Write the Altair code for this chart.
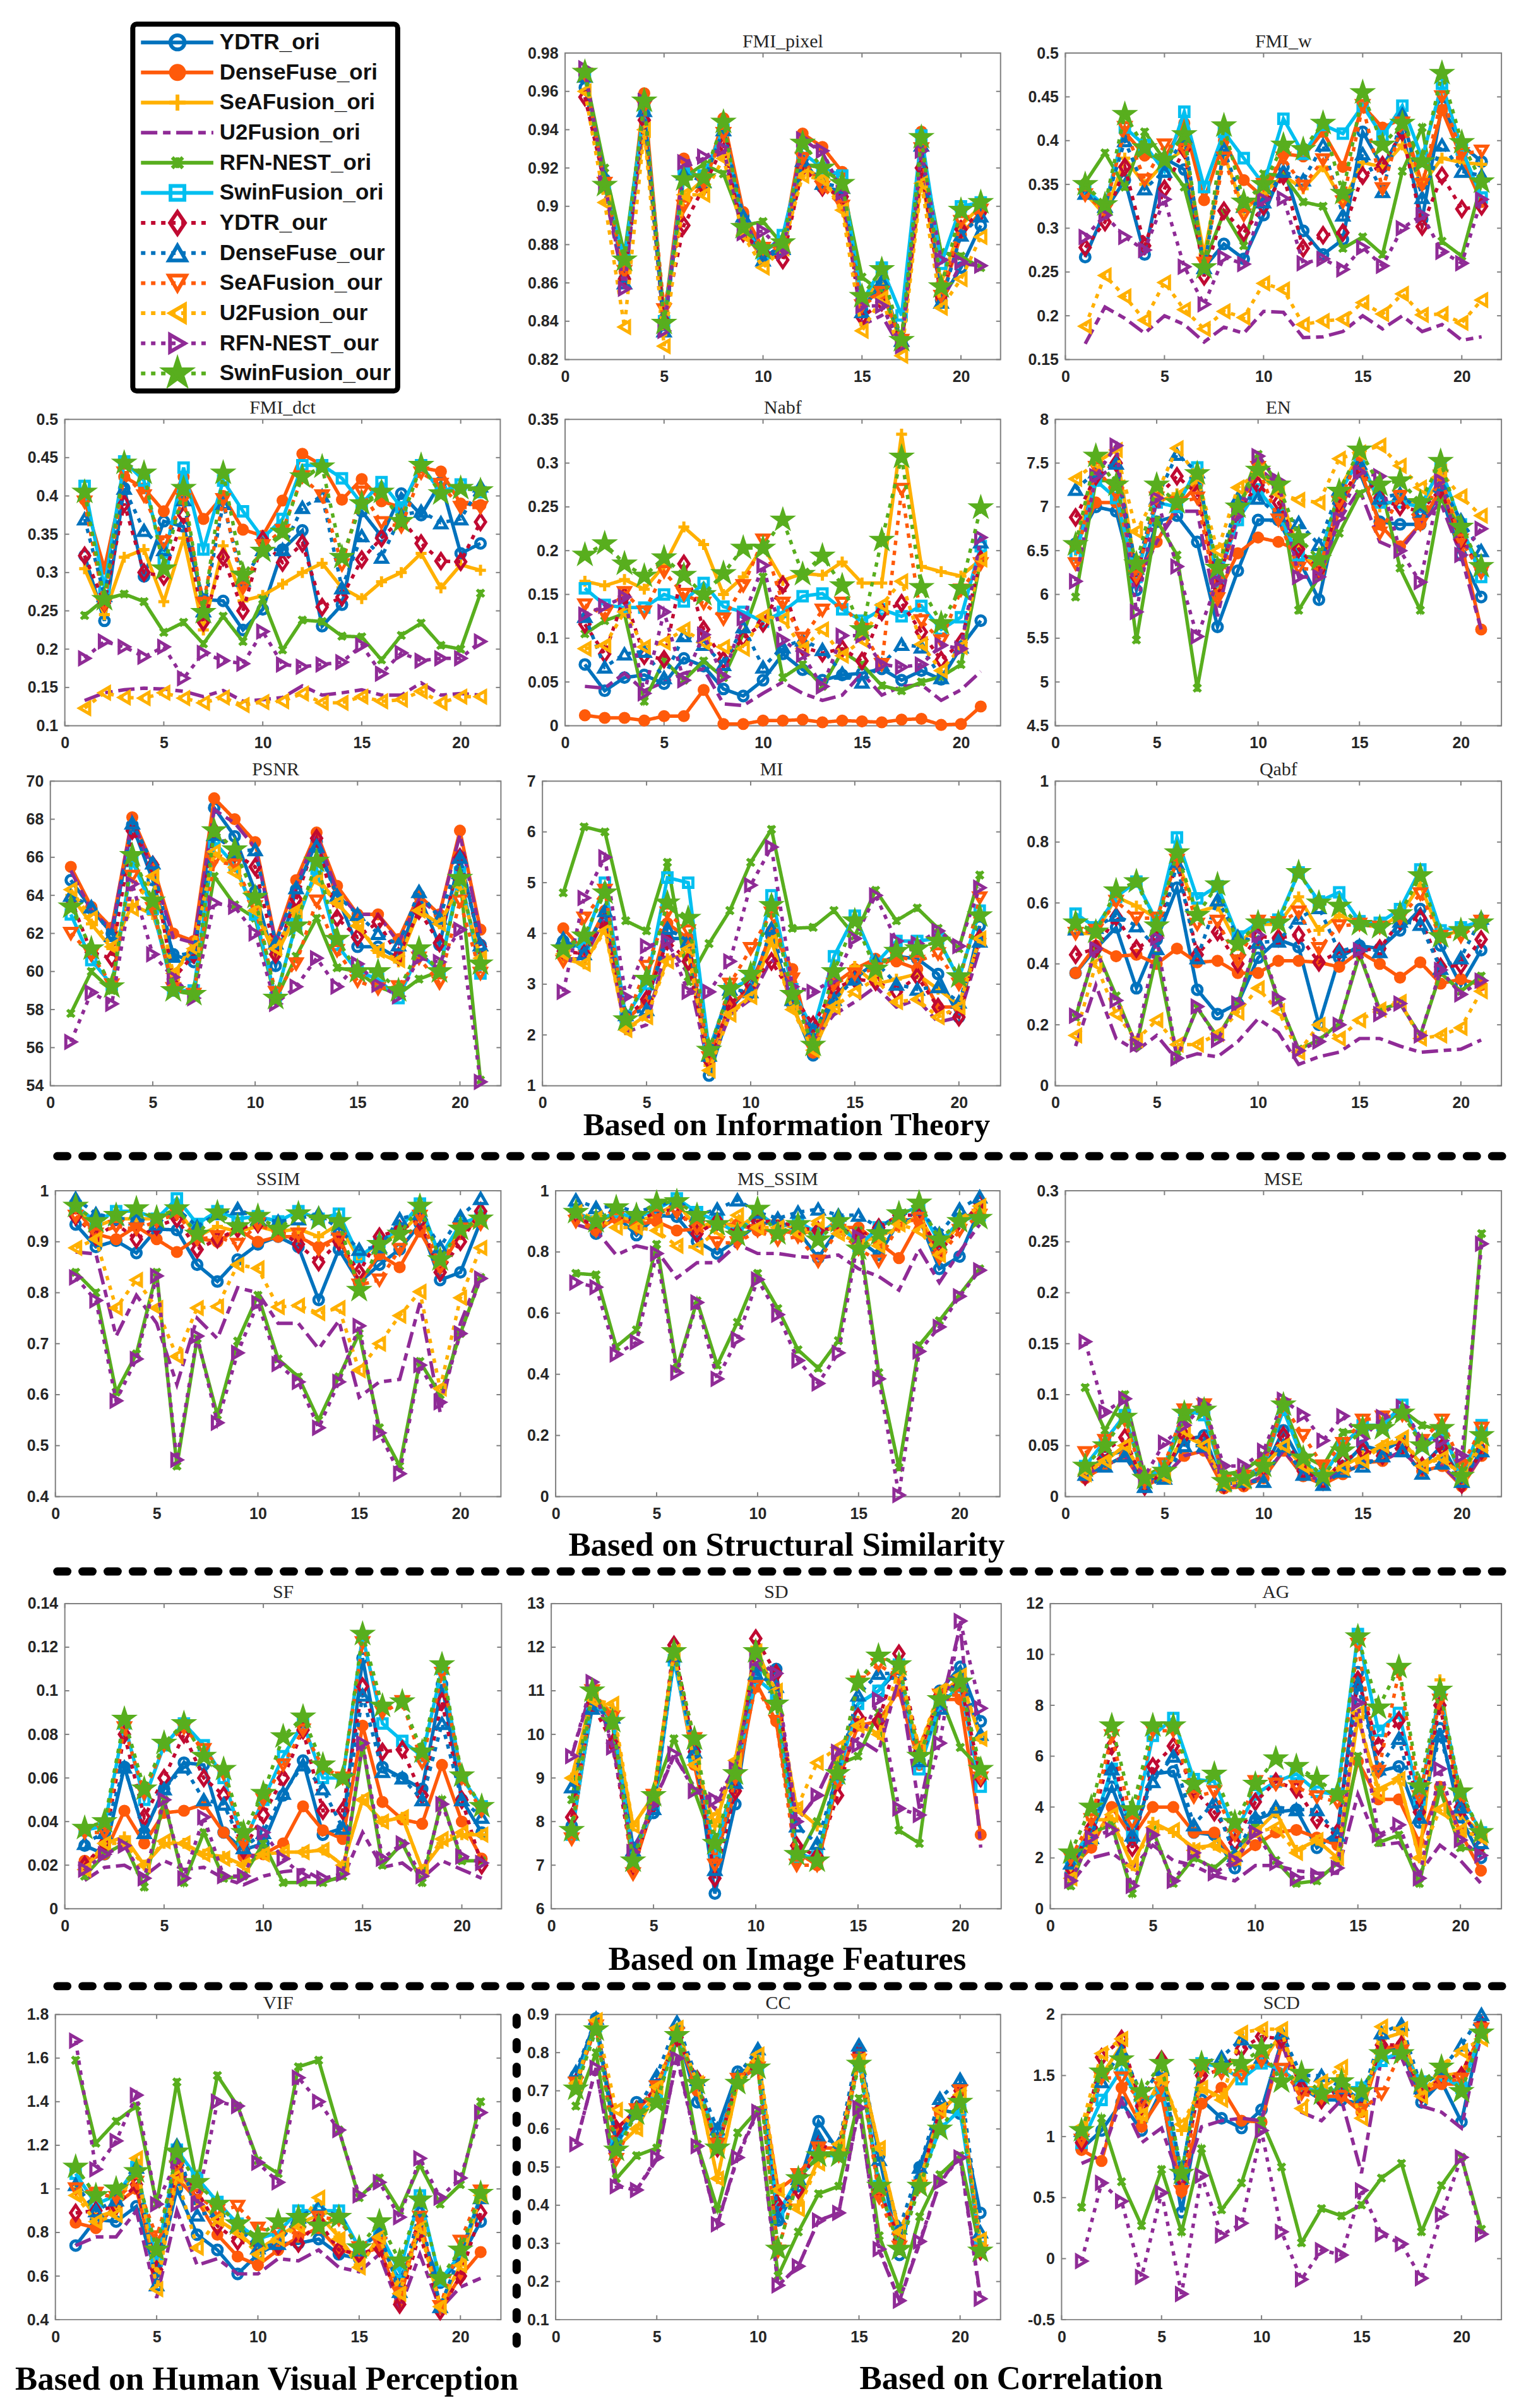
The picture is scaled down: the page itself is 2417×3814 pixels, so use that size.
import altair as alt
import pandas as pd

SERIES = ["YDTR_ori","DenseFuse_ori","SeAFusion_ori","U2Fusion_ori","RFN-NEST_ori","SwinFusion_ori",
          "YDTR_our","DenseFuse_our","SeAFusion_our","U2Fusion_our","RFN-NEST_our","SwinFusion_our"]

FMI_pixel = [
[.962,.914,.862,.955,.835,.918,.915,.94,.895,.873,.88,.925,.91,.908,.846,.86,.83,.93,.851,.868,.89],
[.969,.911,.866,.959,.84,.925,.91,.946,.897,.878,.88,.938,.931,.918,.85,.855,.83,.939,.852,.885,.897],
[.968,.912,.87,.94,.845,.905,.914,.937,.888,.872,.876,.92,.915,.9,.85,.862,.826,.915,.86,.89,.9],
[.971,.908,.858,.95,.835,.92,.925,.928,.885,.875,.876,.935,.928,.908,.838,.843,.825,.928,.85,.87,.869],
[.97,.92,.875,.952,.842,.915,.922,.917,.89,.892,.88,.922,.92,.912,.863,.855,.83,.93,.876,.874,.868],
[.968,.91,.872,.952,.84,.917,.916,.94,.89,.875,.885,.928,.92,.916,.85,.868,.843,.937,.87,.9,.902],
[.957,.912,.862,.945,.84,.89,.91,.932,.886,.876,.872,.92,.91,.905,.842,.85,.828,.92,.853,.888,.897],
[.968,.915,.86,.95,.835,.917,.913,.94,.895,.872,.878,.924,.912,.91,.845,.861,.83,.932,.85,.885,.895],
[.969,.912,.866,.952,.846,.9,.912,.938,.888,.878,.878,.925,.91,.9,.848,.855,.83,.93,.853,.892,.898],
[.96,.902,.837,.94,.827,.906,.906,.925,.885,.868,.878,.916,.914,.898,.835,.852,.822,.912,.847,.862,.884],
[.972,.912,.857,.955,.835,.923,.926,.93,.886,.887,.876,.935,.929,.907,.848,.848,.827,.929,.872,.871,.869],
[.97,.911,.872,.955,.839,.914,.915,.944,.889,.878,.881,.933,.92,.912,.853,.867,.83,.936,.858,.898,.902],
]
FMI_w = [
[.267,.32,.355,.27,.38,.367,.255,.282,.265,.315,.37,.297,.27,.287,.41,.37,.41,.31,.44,.395,.376],
[.34,.325,.41,.383,.38,.42,.332,.4,.355,.335,.385,.382,.41,.37,.44,.415,.425,.35,.435,.38,.33],
[.34,.315,.38,.35,.375,.39,.27,.385,.32,.34,.36,.345,.37,.33,.375,.37,.395,.35,.38,.375,.373],
[.168,.21,.197,.18,.2,.19,.17,.187,.18,.205,.204,.175,.176,.182,.2,.185,.2,.182,.19,.172,.176],
[.352,.386,.347,.41,.378,.347,.26,.318,.28,.362,.36,.33,.325,.277,.29,.27,.365,.415,.285,.268,.352],
[.345,.325,.415,.395,.365,.433,.347,.41,.38,.35,.425,.385,.418,.408,.44,.405,.44,.38,.465,.39,.335],
[.278,.307,.37,.28,.345,.39,.245,.32,.295,.325,.36,.277,.292,.295,.36,.372,.41,.302,.36,.322,.325],
[.34,.325,.4,.345,.365,.405,.255,.39,.325,.33,.365,.355,.395,.315,.385,.342,.43,.335,.395,.365,.36],
[.338,.32,.415,.355,.395,.39,.26,.38,.315,.35,.38,.348,.378,.33,.44,.345,.42,.35,.45,.385,.388],
[.188,.246,.222,.195,.238,.207,.185,.205,.198,.237,.23,.19,.194,.196,.215,.202,.225,.201,.202,.192,.218],
[.29,.315,.29,.275,.333,.256,.213,.267,.259,.333,.334,.26,.265,.253,.278,.257,.3,.315,.273,.26,.333],
[.35,.327,.43,.392,.378,.407,.255,.417,.33,.35,.395,.39,.42,.34,.455,.395,.42,.376,.477,.398,.353],
]
FMI_dct = [
[.322,.237,.41,.295,.367,.36,.265,.263,.225,.252,.33,.355,.23,.258,.38,.347,.403,.375,.418,.325,.338],
[.395,.305,.425,.41,.38,.425,.37,.4,.356,.348,.394,.455,.44,.395,.422,.393,.385,.437,.432,.39,.388],
[.305,.245,.32,.33,.262,.345,.225,.335,.263,.27,.285,.3,.312,.28,.266,.288,.3,.325,.28,.31,.303],
[.133,.143,.147,.149,.148,.145,.138,.146,.132,.134,.137,.152,.14,.143,.147,.14,.14,.156,.14,.142,.14],
[.244,.265,.272,.262,.222,.235,.207,.243,.21,.265,.199,.238,.236,.217,.216,.186,.218,.234,.205,.2,.273],
[.413,.28,.445,.42,.315,.437,.33,.42,.38,.345,.37,.44,.44,.423,.39,.418,.385,.44,.405,.415,.405],
[.322,.26,.39,.3,.295,.375,.235,.32,.25,.343,.313,.338,.255,.268,.317,.345,.37,.338,.315,.314,.366],
[.37,.27,.41,.355,.33,.395,.25,.39,.29,.33,.33,.385,.4,.28,.348,.32,.375,.38,.365,.37,.413],
[.392,.258,.43,.4,.34,.395,.26,.395,.28,.335,.355,.425,.4,.31,.405,.365,.36,.43,.415,.385,.385],
[.123,.143,.137,.136,.143,.136,.13,.137,.127,.131,.132,.142,.13,.13,.138,.132,.134,.145,.13,.138,.138],
[.188,.21,.203,.19,.203,.162,.195,.185,.181,.223,.18,.177,.18,.183,.205,.168,.195,.185,.188,.188,.21],
[.405,.265,.443,.43,.305,.41,.248,.43,.297,.328,.353,.425,.438,.32,.39,.405,.367,.44,.403,.41,.407],
]
Nabf = [
[.07,.04,.055,.058,.048,.077,.068,.042,.034,.052,.082,.064,.052,.058,.06,.065,.052,.063,.053,.09,.12],
[.012,.009,.009,.006,.011,.011,.041,.002,.002,.006,.006,.007,.004,.006,.005,.004,.007,.008,.001,.002,.022],
[.165,.16,.167,.156,.183,.227,.207,.15,.17,.205,.166,.174,.172,.187,.163,.163,.333,.182,.176,.171,.19],
[.045,.043,.06,.04,.05,.06,.065,.025,.023,.037,.05,.037,.029,.035,.06,.035,.045,.047,.029,.041,.062],
[.105,.12,.128,.028,.075,.052,.074,.055,.105,.17,.055,.07,.045,.085,.07,.046,.04,.05,.056,.07,.19],
[.157,.138,.135,.135,.15,.142,.163,.136,.13,.119,.13,.148,.151,.133,.12,.133,.125,.137,.11,.124,.205],
[.116,.082,.148,.08,.076,.185,.11,.075,.1,.117,.161,.09,.083,.088,.074,.13,.14,.107,.075,.095,.19],
[.125,.067,.082,.085,.055,.103,.093,.07,.113,.067,.09,.098,.087,.06,.05,.07,.093,.09,.055,.09,.21],
[.138,.127,.152,.13,.176,.15,.14,.122,.16,.212,.14,.1,.132,.14,.11,.07,.27,.12,.097,.155,.185],
[.088,.092,.13,.09,.095,.11,.095,.09,.088,.125,.122,.088,.11,.08,.098,.138,.165,.093,.063,.09,.19],
[.127,.137,.147,.037,.13,.052,.104,.056,.123,.183,.098,.081,.045,.103,.103,.07,.067,.07,.092,.088,.215],
[.195,.208,.185,.171,.192,.172,.15,.174,.203,.203,.235,.173,.194,.16,.11,.212,.307,.158,.117,.157,.249],
]
EN = [
[6.58,7.0,6.95,6.05,6.83,6.9,6.6,5.63,6.27,6.85,6.85,6.4,5.94,7.0,7.4,6.83,6.8,6.8,7.15,6.45,5.97],
[6.55,7.05,7.05,6.18,6.6,7.0,7.25,6.0,6.47,6.65,6.6,6.5,6.25,6.95,7.45,6.8,6.55,6.8,7.2,6.6,5.6],
[6.5,7.5,7.65,6.25,7.05,7.15,7.3,6.1,7.0,7.4,7.2,6.5,6.3,7.2,7.6,7.0,7.1,7.0,7.3,6.7,6.3],
[6.5,7.3,7.5,6.1,6.6,6.95,6.95,5.75,6.8,7.45,7.25,6.2,6.2,6.85,7.2,6.6,6.5,6.8,7.05,6.45,5.6],
[5.97,7.3,7.3,5.48,6.85,6.45,4.93,6.2,6.95,7.6,7.25,5.82,6.2,6.7,7.15,7.3,6.3,5.82,7.1,6.75,6.3],
[6.45,7.3,7.1,6.2,7.05,7.0,7.45,6.15,6.85,7.2,6.9,6.45,6.4,7.15,7.55,7.05,7.05,7.0,7.45,6.8,6.2],
[6.88,7.35,7.5,6.2,7.1,7.35,7.15,6.1,6.95,7.25,7.05,6.52,6.28,7.05,7.45,7.1,7.0,6.95,7.2,6.62,6.28],
[7.2,7.4,7.5,6.3,7.1,7.6,7.4,6.25,7.1,7.1,6.9,6.82,6.57,7.2,7.5,7.1,7.15,6.95,7.25,6.85,6.5],
[6.35,7.45,7.15,6.2,7.1,7.05,7.1,5.95,6.95,7.45,6.85,6.3,6.28,7.05,7.6,6.7,7.12,6.8,7.35,6.62,6.25],
[7.32,7.5,7.65,6.72,7.15,7.67,7.35,6.5,7.22,7.4,7.15,7.08,7.05,7.55,7.62,7.7,7.47,7.22,7.4,7.12,6.9],
[6.15,7.35,7.7,5.8,7.1,6.32,5.52,6.15,6.9,7.58,7.3,6.2,6.2,6.87,7.4,7.35,6.5,6.14,7.3,6.45,6.75],
[6.57,7.58,7.25,6.35,7.25,7.05,7.38,6.3,7.0,7.42,7.25,6.65,6.4,7.18,7.65,7.25,7.3,7.05,7.52,6.77,6.32],
]
PSNR = [
[64.8,63.3,62,67.7,64.8,60.9,60.5,68.6,67.1,64.2,60.3,64.3,66.8,64,61.3,61.3,60.7,64,61.4,66,61.4],
[65.5,63.4,62.3,68.1,65.6,62,61.6,69.1,68,66.8,61.6,64.8,67.3,64.5,63,63,61.7,64,63,67.4,62.2],
[64,62.5,61.2,63.5,63,59.8,61.5,66.2,65.5,63.2,60.8,63,65,63.6,62.4,61,60.5,63.2,62.5,64.5,60.8],
[65.3,63.2,62.2,68,65.3,61.8,61.5,68.5,67.8,66.5,61.5,64.5,67.2,64.2,63,63,61.5,63.8,63,67.2,62],
[57.8,60,59,66,63.5,59,58.8,65,63.5,62.8,58.5,60.8,62.8,60.2,60,59.2,58.8,59.6,60,65,54.3],
[63,60.6,59.3,65.8,63.3,59,59,66.8,65.6,63,58.6,62.5,65.4,61.4,60,59.6,58.6,61,60,65.2,59.9],
[63.8,61,60.7,67.4,65.6,59.6,60.9,67.4,66.2,65.5,60.9,63.8,67,62.8,61.8,62.6,60.8,63.2,61.5,66,61.3],
[64,63.4,61.9,67.8,65.7,60.8,61,67.2,66.3,66.4,61.5,64.4,66.6,64,63,62,61.4,64.2,62.8,66,61.4],
[62,60.9,59.3,65,63.3,59.1,58.8,65.8,65.6,63.4,58.9,60.4,63.7,61.1,59.5,59.1,59.2,60.7,59.4,63.7,59.9],
[64.3,62.8,61.3,63.3,65,59.9,61.2,66.3,65.2,63.2,61.2,63.2,64.8,63.6,62.4,61.1,60.6,63.2,62.5,64.5,60.7],
[56.3,58.9,58.3,64.6,60.9,59.7,58.6,63.6,63.4,62,58.3,59.2,60.7,59.2,60.4,59.3,58.7,60.7,60.5,62.2,54.2],
[63.4,61.2,59.2,66.1,63.7,59,58.8,67.4,66.4,63.9,58.6,62.4,65.8,61.7,60,60,59,61.2,60,64.9,60.4],
]
MI = [
[3.85,3.7,4.4,2.3,2.65,3.9,3.9,1.2,2.5,3.0,3.95,2.6,1.6,2.75,3.15,3.4,3.55,3.5,3.2,2.35,4.15],
[4.1,3.65,4.45,2.3,2.65,4.2,3.9,1.5,2.6,2.9,4.05,3.3,1.65,3,3.3,3.5,3.45,3.3,2.55,2.55,3.9],
[3.5,3.4,4.1,2.1,2.4,3.5,3.6,1.4,2.45,2.75,3.85,2.55,1.7,2.55,3.35,3.0,3.1,3.2,2.9,2.6,3.9],
[3.5,3.5,4.3,2.05,2.2,3.8,3.2,1.35,2.4,2.7,3.5,3.0,1.9,2.4,2.65,2.95,2.55,2.7,2.25,2.35,3.7],
[4.8,6.1,6,4.25,4.05,5.4,3.05,3.8,4.45,5.4,6.05,4.1,4.12,4.45,3.95,4.85,4.25,4.5,4.1,3.7,5.15],
[3.7,3.8,5,2.35,3.0,5.1,5,1.7,2.9,3.1,4.75,2.9,2.1,3.55,4.35,3.4,3.85,3.85,3.9,3.1,4.45],
[3.65,3.6,4.25,2.35,2.7,3.85,3.45,1.5,2.6,3.0,3.45,2.8,2.2,2.9,3.1,3.05,2.85,3.15,2.55,2.35,3.9],
[3.9,3.6,4.45,2.4,2.5,4.1,3.85,1.6,2.9,2.85,4.1,2.7,2.1,2.7,3.1,3.45,3,2.9,2.95,2.65,3.85],
[3.45,4.3,4.85,2.25,3.35,4.4,4.05,1.55,3,3.7,4.4,3.1,1.7,3.0,3.2,3.3,3.55,3.45,3.6,3.0,4.7],
[3.6,3.4,4.05,2.1,2.35,3.45,3.7,1.3,2.4,2.75,3.85,2.5,1.7,2.55,2.85,3.1,2.65,2.7,2.35,2.55,3.9],
[2.85,4.7,5.5,2.75,3.75,3.85,2.85,2.85,3.45,4.95,5.7,2.95,2.85,3.1,3.9,4.75,3.85,3.8,4.05,3.75,4.9],
[3.7,3.95,4.8,2.3,3.1,4.6,4.3,1.7,2.9,3.2,4.55,2.8,1.8,3.25,4.25,3.3,3.65,3.7,3.85,3.15,4.35],
]
Qabf = [
[.37,.45,.52,.32,.48,.65,.315,.235,.27,.42,.48,.455,.2,.42,.46,.45,.51,.58,.46,.33,.445],
[.37,.46,.425,.43,.4,.45,.405,.41,.37,.37,.41,.41,.405,.39,.44,.4,.355,.405,.335,.35,.33],
[.5,.5,.62,.59,.55,.74,.57,.59,.46,.53,.53,.62,.51,.56,.53,.52,.56,.66,.49,.51,.54],
[.13,.33,.155,.115,.165,.085,.105,.095,.145,.22,.175,.07,.095,.11,.155,.155,.13,.11,.115,.12,.15],
[.225,.45,.295,.13,.43,.095,.255,.16,.27,.48,.28,.12,.15,.205,.43,.25,.27,.165,.37,.31,.36],
[.565,.52,.62,.67,.54,.815,.615,.655,.49,.535,.545,.7,.605,.635,.54,.535,.58,.71,.51,.52,.54],
[.43,.45,.555,.45,.49,.74,.43,.505,.4,.49,.485,.495,.405,.44,.445,.45,.54,.55,.39,.395,.48],
[.515,.52,.56,.525,.45,.73,.42,.61,.49,.47,.475,.55,.585,.44,.46,.44,.54,.53,.385,.42,.55],
[.5,.51,.605,.55,.55,.74,.53,.54,.41,.54,.535,.57,.45,.525,.53,.52,.55,.63,.49,.49,.54],
[.165,.4,.235,.15,.215,.135,.135,.17,.24,.32,.245,.11,.2,.155,.215,.25,.275,.155,.165,.19,.31],
[.23,.45,.28,.135,.485,.09,.26,.15,.27,.495,.285,.115,.145,.2,.445,.235,.27,.165,.38,.3,.345],
[.535,.505,.64,.67,.525,.765,.56,.66,.465,.535,.535,.7,.6,.59,.53,.52,.565,.69,.49,.51,.535],
]
SSIM = [
[.934,.89,.902,.878,.925,.923,.855,.822,.865,.895,.91,.89,.786,.885,.82,.855,.885,.935,.825,.84,.94],
[.965,.915,.905,.93,.905,.88,.907,.9,.925,.9,.91,.91,.89,.91,.82,.875,.85,.92,.85,.915,.945],
[.97,.93,.945,.945,.945,.965,.91,.93,.92,.93,.92,.925,.91,.935,.865,.9,.915,.955,.87,.925,.94],
[.88,.876,.715,.795,.74,.62,.75,.71,.81,.8,.74,.74,.69,.745,.595,.625,.63,.78,.565,.74,.84],
[.84,.8,.605,.68,.84,.46,.71,.56,.705,.795,.67,.635,.55,.635,.72,.535,.46,.665,.6,.72,.83],
[.97,.94,.96,.96,.945,.985,.935,.96,.945,.95,.94,.96,.945,.955,.87,.9,.925,.975,.87,.935,.95],
[.95,.91,.935,.905,.93,.945,.885,.905,.925,.935,.925,.895,.86,.9,.84,.91,.925,.94,.84,.9,.96],
[.985,.955,.945,.945,.935,.965,.93,.955,.965,.945,.94,.945,.955,.925,.885,.89,.945,.955,.89,.95,.985],
[.95,.915,.93,.925,.94,.955,.905,.91,.895,.935,.915,.915,.885,.905,.815,.825,.885,.95,.85,.925,.935],
[.888,.905,.77,.825,.77,.675,.77,.773,.855,.848,.772,.775,.76,.77,.648,.7,.755,.802,.612,.79,.888],
[.83,.785,.588,.67,.833,.472,.715,.545,.682,.78,.66,.625,.535,.625,.735,.525,.445,.658,.585,.72,.828],
[.97,.94,.952,.965,.947,.965,.915,.957,.93,.95,.925,.955,.945,.94,.805,.895,.915,.97,.865,.925,.945],
]
MS_SSIM = [
[.93,.86,.92,.855,.92,.915,.835,.795,.84,.89,.9,.87,.78,.88,.84,.79,.9,.91,.745,.785,.94],
[.92,.87,.91,.89,.9,.87,.875,.89,.89,.87,.87,.86,.87,.88,.88,.83,.78,.9,.8,.9,.94],
[.93,.9,.92,.9,.92,.96,.88,.9,.88,.92,.89,.88,.85,.91,.83,.85,.88,.92,.8,.9,.93],
[.89,.87,.79,.82,.805,.715,.765,.765,.825,.795,.795,.785,.78,.79,.745,.72,.675,.81,.7,.8,.89],
[.73,.725,.49,.545,.825,.42,.64,.43,.57,.73,.615,.48,.42,.51,.87,.405,.095,.495,.575,.66,.745],
[.93,.9,.93,.91,.94,.975,.93,.9,.86,.93,.88,.9,.86,.9,.82,.88,.92,.95,.83,.9,.92],
[.92,.88,.92,.9,.93,.94,.86,.9,.86,.9,.9,.88,.87,.88,.85,.88,.92,.92,.8,.88,.96],
[.97,.945,.95,.93,.95,.97,.92,.94,.97,.93,.91,.93,.94,.92,.92,.88,.92,.94,.86,.94,.98],
[.9,.87,.91,.88,.92,.93,.88,.83,.83,.87,.84,.85,.77,.87,.81,.77,.89,.91,.78,.87,.92],
[.93,.91,.88,.88,.87,.82,.815,.87,.92,.88,.88,.86,.9,.86,.83,.82,.89,.87,.79,.9,.95],
[.7,.685,.465,.505,.795,.405,.635,.385,.515,.71,.595,.445,.37,.47,.85,.385,.005,.475,.555,.655,.74],
[.93,.9,.945,.92,.96,.965,.92,.89,.855,.94,.86,.89,.84,.9,.81,.86,.925,.96,.84,.9,.91],
]
MSE = [
[.022,.04,.045,.012,.025,.055,.06,.01,.018,.025,.065,.03,.015,.03,.05,.045,.055,.03,.05,.015,.045],
[.018,.03,.04,.01,.02,.04,.045,.008,.01,.018,.045,.02,.012,.022,.033,.035,.045,.025,.03,.01,.04],
[.025,.035,.05,.018,.025,.06,.05,.015,.02,.03,.05,.03,.02,.03,.04,.05,.055,.03,.04,.02,.055],
[.022,.03,.04,.012,.02,.04,.045,.01,.012,.02,.045,.022,.015,.025,.035,.035,.045,.025,.03,.012,.04],
[.107,.065,.1,.02,.03,.075,.09,.022,.025,.04,.09,.04,.03,.063,.065,.07,.085,.07,.065,.02,.258],
[.03,.055,.08,.015,.03,.085,.08,.015,.02,.03,.085,.035,.02,.05,.07,.07,.09,.05,.065,.02,.07],
[.02,.045,.058,.01,.025,.06,.055,.012,.015,.03,.06,.025,.015,.035,.045,.04,.05,.03,.048,.012,.045],
[.022,.03,.04,.01,.018,.05,.05,.012,.015,.015,.05,.022,.012,.025,.03,.04,.045,.023,.033,.015,.045],
[.043,.055,.075,.015,.032,.085,.09,.015,.02,.03,.09,.06,.03,.052,.075,.078,.08,.055,.075,.03,.067],
[.022,.035,.05,.02,.02,.065,.05,.012,.015,.03,.05,.03,.02,.028,.035,.05,.058,.03,.038,.02,.05],
[.152,.083,.096,.02,.053,.07,.09,.03,.03,.045,.095,.08,.055,.079,.057,.078,.088,.055,.055,.04,.248],
[.03,.05,.078,.018,.025,.082,.085,.015,.018,.03,.09,.038,.02,.045,.067,.067,.082,.05,.067,.02,.06],
]
SF = [
[.029,.025,.065,.035,.055,.067,.066,.035,.027,.03,.052,.068,.034,.037,.115,.065,.06,.055,.103,.05,.035],
[.022,.025,.045,.03,.044,.045,.048,.035,.024,.025,.03,.047,.036,.032,.084,.049,.041,.039,.066,.04,.023],
[.018,.03,.033,.02,.03,.03,.025,.024,.02,.025,.026,.026,.027,.02,.05,.04,.042,.018,.03,.034,.034],
[.013,.019,.02,.015,.022,.018,.019,.014,.011,.015,.017,.018,.013,.014,.035,.019,.021,.014,.022,.018,.014],
[.015,.025,.03,.01,.05,.012,.035,.014,.015,.03,.012,.012,.012,.015,.075,.02,.03,.012,.05,.022,.022],
[.036,.038,.085,.05,.075,.085,.075,.06,.03,.05,.07,.085,.06,.06,.125,.085,.077,.07,.11,.06,.047],
[.02,.03,.08,.042,.06,.08,.06,.052,.027,.043,.06,.082,.045,.045,.102,.072,.073,.052,.095,.05,.02],
[.03,.035,.065,.035,.055,.065,.05,.048,.028,.035,.053,.066,.055,.037,.098,.063,.06,.05,.085,.05,.042],
[.035,.035,.083,.053,.075,.083,.073,.062,.03,.05,.066,.082,.065,.06,.122,.09,.095,.067,.108,.06,.045],
[.018,.03,.03,.02,.031,.03,.025,.023,.02,.025,.026,.026,.027,.02,.05,.04,.042,.018,.032,.035,.034],
[.018,.025,.029,.014,.05,.014,.042,.015,.015,.035,.023,.015,.014,.016,.076,.023,.03,.015,.048,.024,.021],
[.037,.04,.087,.055,.076,.085,.07,.064,.035,.053,.079,.088,.066,.06,.126,.093,.095,.072,.112,.061,.047],
]
SD = [
[7.9,10.6,10.5,7.4,8.2,11.75,9.7,6.35,8.4,11.5,11.5,7.3,7.1,9.2,10.7,11,11.5,9.4,11,11.55,10.3],
[7.7,10.7,10.4,6.9,8.4,11.8,9.3,7.1,8.7,11.2,10.3,7.3,7,8.9,10.2,10.3,11,9.3,10.8,10.8,7.7],
[9,10.9,10.5,7.9,8.6,11.8,9.4,7.9,9.4,12,10.9,8.3,7.9,9.5,10.3,10,11.2,9.7,10.9,11.3,9.9],
[9.5,11.1,9.8,7.3,8.4,9.5,8.8,8.3,9.3,11.6,11.2,8,8.6,9.6,9.9,9.6,11.3,8.3,10.5,12.5,7.4],
[8.5,11,10.2,7,8.6,9.9,8.7,7.4,9,11.9,10.8,7.1,8,9.3,9.5,10.5,7.8,7.5,10.9,9.7,9.2],
[7.7,10.7,10.4,7.2,8.3,11.7,9.5,7.3,9,11.3,10.9,7.2,7.2,9,10.7,11,11.6,9.2,10.7,11.1,8.8],
[8.1,10.7,9.8,6.95,8.4,12.05,9.6,6.7,8.7,12.2,11.4,7.45,7.2,8.6,10.4,10.3,11.85,9.6,10.9,11.2,9],
[8.8,10.6,10.4,7.35,8.3,11.8,9.6,6.9,8.9,11.4,11.1,7.9,7.5,9.1,10.9,11.4,11.4,9.4,10.6,11.4,10],
[7.6,11,10.4,6.8,8.6,11.85,9.9,7,9,11.1,10.3,7,7,8.9,11.2,11.6,11.3,9.7,10.9,10.9,9],
[9,10.8,10.7,7.9,8.6,11.9,9.3,8.1,9.4,11.9,11,8.3,9.35,9.7,10.2,10,11.5,9.7,11,11.35,9.9],
[9.5,11.2,9.7,7.3,8.4,9.55,8.7,8.5,9.2,11.7,11.4,8,8.6,9.6,9.75,10.8,8.3,8.15,9.8,12.6,10.6],
[7.8,11,10.3,7.1,8.6,11.9,9.9,7.5,9.1,11.9,10.7,7.25,7.1,9.1,11.2,11.8,11.6,9.5,10.8,11.2,9.2],
]
AG = [
[1.4,3,4.8,2.7,5.3,5.4,3,2.9,1.6,3.5,3.8,3.9,2.4,3,9.3,5.4,5.6,3.4,7.1,3.6,2],
[1.6,2.4,4,2.8,4,4,3,3,1.9,2.5,3,3.1,2.8,2.5,5.8,4.3,4.3,2.6,4.8,3,1.5],
[1.5,3.5,3.5,1.7,3.4,3,2.4,2.5,2,3,3.8,2.3,2.7,2,7.5,4.7,5.1,2,9,3.7,3],
[1,2,2.2,1.6,2.5,1.9,1.7,1.3,1.1,1.7,1.7,1.5,1.4,1.4,4.5,2.5,2.6,1.4,2.5,1.9,1],
[.9,3,3.3,.6,3.1,1,2,1.6,2.3,3.2,1.9,1,1.1,1.8,6,2.6,2.9,1,4.7,2.4,2.3],
[2,3,5.5,3,6.8,7.5,5.1,5,3,4.5,5,5.3,4.6,4.5,10.8,7,7.7,4.3,8.5,4.5,3],
[1.6,3.2,6.4,2.4,5.6,6.4,4.7,3.8,2.6,4.2,5,4.7,3.5,3,9,6.4,7.4,3.8,8,4,2.5],
[1.8,2.8,5.5,2.9,5,6,3.3,4.2,2.1,3.6,4,3.9,3.9,2.9,8.8,5.5,6.7,3.6,6.8,4,2.6],
[2,3.5,6.8,3.4,7,7,4.4,4.6,2.9,5,4.9,4.8,4.4,4.2,10.4,5.4,9.3,4.4,8.2,4.5,2.9],
[1.2,2.8,3.7,1.7,3.2,3.1,2.3,2.5,2,3,3.2,2.2,2.7,2,7.7,4.5,5.1,2,3.9,3.1,2.8],
[1.1,2.8,3.1,.9,2.9,1.1,2.2,1.4,1.9,3,1.8,1.2,1.3,1.6,8.1,2.9,3.3,1.2,5.5,2.7,2.1],
[2.2,4,7.2,3.9,7.2,7.2,4.9,5.3,3.4,4.9,5.9,5.6,5.1,4.5,10.7,7.9,9.5,4.8,8.6,4.6,3],
]
VIF = [
[.74,.86,.85,.92,.6,1.0,.79,.72,.61,.7,.75,.75,.77,.7,.68,.75,.58,.8,.57,.68,.85],
[.845,.82,.93,1.0,.62,1.05,.95,.79,.69,.65,.72,.78,.82,.72,.7,.73,.48,.87,.45,.6,.71],
[1.0,.87,.9,1.13,.6,1.1,.95,.86,.8,.72,.78,.84,.88,.78,.65,.78,.55,.83,.47,.65,.97],
[.74,.78,.78,.9,.5,.9,.65,.68,.61,.61,.68,.67,.72,.64,.62,.7,.45,.7,.45,.55,.59],
[1.59,1.21,1.31,1.38,.93,1.49,1.02,1.52,1.38,1.13,1.07,1.56,1.59,1.27,.96,1.05,.9,1.11,.93,1.02,1.4],
[1.07,.93,.97,1.1,.67,1.18,1.05,.94,.84,.77,.8,.9,.9,.9,.73,.8,.62,.97,.58,.7,.97],
[.89,.9,.92,1.02,.63,1.1,.99,.83,.76,.74,.74,.75,.85,.72,.7,.73,.47,.8,.44,.6,.89],
[1.02,.9,.95,1.1,.56,1.2,.88,.9,.83,.73,.75,.87,.92,.87,.72,.8,.53,.9,.46,.7,.96],
[1.0,.98,.96,1.03,.78,1.1,.97,.9,.92,.82,.8,.8,.87,.86,.73,.75,.52,.87,.46,.76,.99],
[.97,.85,.88,1.14,.54,1.06,.73,.86,.8,.7,.77,.83,.96,.77,.64,.78,.52,.82,.46,.65,.97],
[1.68,1.09,1.22,1.43,.93,1.13,.93,1.4,1.38,1.12,1.03,1.51,1.4,1.27,.97,1.03,.87,1.14,.96,1.05,1.35],
[1.1,.97,1.0,1.08,.72,1.17,1.03,.93,.84,.78,.85,.87,.83,.87,.73,.85,.67,.95,.59,.72,.98],
]
CC = [
[.74,.89,.56,.67,.68,.86,.67,.6,.75,.76,.36,.45,.62,.54,.8,.53,.27,.5,.65,.64,.38],
[.72,.87,.6,.65,.7,.85,.7,.55,.72,.77,.44,.48,.55,.55,.79,.43,.33,.45,.64,.7,.28],
[.71,.88,.55,.6,.7,.86,.72,.47,.72,.8,.4,.4,.52,.55,.78,.55,.33,.45,.65,.69,.3],
[.56,.76,.45,.44,.52,.79,.56,.35,.53,.65,.19,.24,.36,.38,.66,.28,.15,.3,.46,.53,.16],
[.66,.8,.47,.53,.55,.85,.56,.39,.59,.65,.215,.33,.43,.45,.68,.32,.18,.37,.48,.53,.28],
[.72,.87,.56,.64,.68,.85,.72,.57,.73,.76,.38,.47,.53,.53,.78,.45,.3,.46,.6,.65,.29],
[.72,.87,.6,.65,.71,.84,.73,.55,.73,.77,.4,.44,.56,.54,.8,.44,.31,.46,.65,.7,.28],
[.75,.89,.56,.65,.74,.88,.73,.6,.74,.81,.37,.47,.58,.56,.82,.52,.34,.5,.68,.73,.33],
[.72,.87,.52,.65,.71,.85,.72,.56,.73,.76,.28,.48,.55,.53,.78,.42,.29,.45,.64,.7,.28],
[.72,.885,.65,.6,.71,.865,.72,.47,.72,.795,.44,.39,.51,.56,.78,.55,.33,.46,.65,.69,.31],
[.56,.76,.45,.44,.525,.785,.555,.35,.525,.645,.19,.24,.36,.38,.655,.285,.15,.305,.46,.525,.155],
[.705,.86,.545,.64,.67,.845,.72,.55,.72,.76,.285,.47,.53,.53,.77,.45,.285,.45,.6,.67,.28],
]
SCD = [
[.9,1.05,1.28,1.05,1.38,.38,1.3,1.15,1.07,1.22,1.78,1.4,1.3,1.3,1.27,1.7,1.72,1.28,1.45,1.12,1.9],
[.89,.8,1.4,1.08,1.33,.55,1.27,1.4,1.13,1.12,1.75,1.42,1.33,1.33,1.2,1.72,1.75,1.35,1.43,1.43,1.9],
[1.05,1.5,1.75,1.15,1.5,1.05,1.4,1.32,1.55,1.6,1.85,1.4,1.4,1.5,1.2,1.8,1.85,1.35,1.5,1.52,1.85],
[.78,.85,1.3,.95,1.07,.6,1.08,1.13,1.15,1.13,1.8,1.2,1.13,1.3,.7,1.65,1.65,1.25,1.2,1.07,1.85],
[.42,1.15,.63,.27,.73,.22,.9,.4,.62,1.13,.75,.13,.41,.35,.44,.66,.78,.22,.6,.83,.24],
[.95,1.3,1.55,1.25,1.4,.7,1.6,1.57,1.47,1.6,1.55,1.42,1.35,1.4,1.4,1.62,1.7,1.45,1.5,1.4,1.85],
[.95,1.65,1.8,1.25,1.63,.65,1.5,1.55,1.72,1.82,1.8,1.4,1.3,1.4,1.25,1.75,1.75,1.35,1.48,1.5,1.92],
[1.05,1.45,1.7,1.35,1.55,.7,1.6,1.65,1.8,1.65,1.85,1.5,1.5,1.4,1.3,1.85,1.92,1.4,1.55,1.75,2.0],
[.97,1.48,1.48,1.28,1.4,.55,1.55,1.52,1.5,1.62,1.55,1.35,1.32,1.33,1.22,1.35,1.7,1.37,1.45,1.47,1.88],
[1.08,1.68,1.8,1.18,1.47,1.1,1.4,1.3,1.85,1.88,1.88,1.23,1.45,1.57,1.15,1.9,1.88,1.33,1.57,1.7,1.8],
[-.02,.62,.47,-.15,.54,-.29,.68,.19,.29,1.05,.22,-.17,.07,.03,.56,.2,.12,-.16,.36,.83,.2],
[1.05,1.53,1.63,1.37,1.6,.7,1.6,1.57,1.6,1.72,1.45,1.52,1.35,1.45,1.37,1.68,1.68,1.45,1.57,1.37,1.85],
]

XTICKS = [0, 5, 10, 15, 20]
YTICKS = {
    "FMI_pixel": [.82,.84,.86,.88,.9,.92,.94,.96,.98],
    "FMI_w": [.15,.2,.25,.3,.35,.4,.45,.5],
    "FMI_dct": [.1,.15,.2,.25,.3,.35,.4,.45,.5],
    "Nabf": [0,.05,.1,.15,.2,.25,.3,.35],
    "EN": [4.5,5,5.5,6,6.5,7,7.5,8],
    "PSNR": [54,56,58,60,62,64,66,68,70],
    "MI": [1,2,3,4,5,6,7],
    "Qabf": [0,.2,.4,.6,.8,1],
    "SSIM": [.4,.5,.6,.7,.8,.9,1],
    "MS_SSIM": [0,.2,.4,.6,.8,1],
    "MSE": [0,.05,.1,.15,.2,.25,.3],
    "SF": [0,.02,.04,.06,.08,.1,.12,.14],
    "SD": [6,7,8,9,10,11,12,13],
    "AG": [0,2,4,6,8,10,12],
    "VIF": [.4,.6,.8,1,1.2,1.4,1.6,1.8],
    "CC": [.1,.2,.3,.4,.5,.6,.7,.8,.9],
    "SCD": [-.5,0,.5,1,1.5,2],
}

BLUE, ORANGE, YELLOW, PURPLE, GREEN, CYAN, CRIMSON = "#0072BD", "#FF5A0A", "#FFB000", "#8F2B96", "#58AE1E", "#00BFF0", "#C00A32"
STAR = "M0,-1L0.225,-0.309L0.951,-0.309L0.363,0.118L0.588,0.809L0,0.382L-0.588,0.809L-0.363,0.118L-0.951,-0.309L-0.225,-0.309Z"
DIAMOND = "M0,-1L0.68,0L0,1L-0.68,0Z"
PLUS = "M-1,0L1,0M0,-1L0,1"
ASTER = "M-1,-1L1,1M-1,1L1,-1M0,-1L0,1"
SOLID, DOT, DASH = [1, 0], [7, 9], [26, 9, 12, 9]
# name: colour, dash, shape, size, filled
STYLE = {
    "YDTR_ori": (BLUE, SOLID, "circle", 230, False),
    "DenseFuse_ori": (ORANGE, SOLID, "circle", 200, True),
    "SeAFusion_ori": (YELLOW, SOLID, PLUS, 300, False),
    "U2Fusion_ori": (PURPLE, DASH, None, 0, False),
    "RFN-NEST_ori": (GREEN, SOLID, ASTER, 130, False),
    "SwinFusion_ori": (CYAN, SOLID, "square", 220, False),
    "YDTR_our": (CRIMSON, DOT, DIAMOND, 560, False),
    "DenseFuse_our": (BLUE, DOT, "triangle-up", 340, False),
    "SeAFusion_our": (ORANGE, DOT, "triangle-down", 340, False),
    "U2Fusion_our": (YELLOW, DOT, "triangle-left", 340, False),
    "RFN-NEST_our": (PURPLE, DOT, "triangle-right", 340, False),
    "SwinFusion_our": (GREEN, DOT, STAR, 800, True),
}
LABEL_FONT, TITLE_FONT = "Liberation Sans", "Liberation Serif"
INK, FRAME = "#262626", "#808080"
W, H = 2409, 3806
ONE = pd.DataFrame({"a": [0]})


def panel(name, values, x0, x1, y0, y1):
    """x0..x1, y0..y1 are the plot's edges on the page."""
    px0, px1, py0, py1 = x0 - 8, x1 - 8, y0 - 8, y1 - 8
    ticks = YTICKS[name]
    dom = [ticks[0], ticks[-1]]

    def X(f):
        return alt.X(f, type="quantitative",
                     scale=alt.Scale(domain=[0, 22], range=[px0, px1], nice=False, zero=False),
                     axis=alt.Axis(values=XTICKS, title=None, grid=False, domain=False, ticks=False, orient="bottom",
                                   offset=py1 - H, labelFont=LABEL_FONT, labelFontSize=25, labelFontWeight="bold",
                                   labelColor=INK, labelPadding=15, labelFlush=False, labelOverlap=False))

    def Y(f):
        return alt.Y(f, type="quantitative",
                     scale=alt.Scale(domain=dom, range=[py1, py0], nice=False, zero=False),
                     axis=alt.Axis(values=ticks, title=None, grid=False, domain=False, ticks=False, orient="left",
                                   offset=-px0, labelFont=LABEL_FONT, labelFontSize=25, labelFontWeight="bold",
                                   labelColor=INK, labelPadding=11, labelFlush=False, labelOverlap=False,
                                   labelExpr="datum.value + ''"))

    xdf, ydf = pd.DataFrame({"t": XTICKS}), pd.DataFrame({"t": ticks})
    tk = dict(color=FRAME, strokeWidth=2)
    layers = [
        alt.Chart(ONE).mark_rect(fill="transparent", stroke=FRAME, strokeWidth=2).encode(
            x=alt.value(px0), x2=alt.value(px1), y=alt.value(py0), y2=alt.value(py1)),
        alt.Chart(pd.DataFrame({"t": [name]})).mark_text(
            font=TITLE_FONT, fontSize=30, color=INK, baseline="middle", align="center").encode(
            x=alt.value((px0 + px1) / 2), y=alt.value(py0 - 18), text="t:N"),
        alt.Chart(xdf).mark_rule(**tk).encode(x=X("t"), y=alt.value(py1), y2=alt.value(py1 - 7)),
        alt.Chart(xdf).mark_rule(**tk).encode(x=X("t"), y=alt.value(py0), y2=alt.value(py0 + 7)),
        alt.Chart(ydf).mark_rule(**tk).encode(y=Y("t"), x=alt.value(px0), x2=alt.value(px0 + 7)),
        alt.Chart(ydf).mark_rule(**tk).encode(y=Y("t"), x=alt.value(px1), x2=alt.value(px1 - 7)),
    ]
    for s, vals in zip(SERIES, values):
        col, dash, shape, size, filled = STYLE[s]
        df = pd.DataFrame({"x": list(range(1, len(vals) + 1)), "y": vals})
        base = alt.Chart(df).encode(x=X("x"), y=Y("y"))
        layers.append(base.mark_line(color=col, strokeWidth=5.5, strokeDash=dash))
        if shape:
            kw = dict(fill=col) if filled else dict(fill="transparent")
            layers.append(base.mark_point(shape=shape, size=size, stroke=col, strokeWidth=5, opacity=1, **kw))
    return alt.layer(*layers)


def legend_panel():
    df = pd.DataFrame({"series": SERIES})
    Yl = alt.Y("series:N", axis=None,
               scale=alt.Scale(type="point", domain=SERIES, range=[61 - 8, 587 - 8], padding=0))
    layers = [alt.Chart(ONE).mark_rect(fill="white", stroke="black", strokeWidth=8, cornerRadius=6).encode(
        x=alt.value(211 - 8), x2=alt.value(632 - 8), y=alt.value(32 - 8), y2=alt.value(615 - 8))]
    for s in SERIES:
        col, dash, shape, size, filled = STYLE[s]
        d = df[df.series == s]
        layers.append(alt.Chart(d).mark_rule(color=col, strokeWidth=6, strokeDash=dash).encode(
            x=alt.value(224 - 8), x2=alt.value((339 if dash != DOT else 334) - 8), y=Yl))
        if shape:
            kw = dict(fill=col) if filled else dict(fill="transparent")
            layers.append(alt.Chart(d).mark_point(shape=shape, size=size * 2.2, stroke=col, strokeWidth=6,
                                                  opacity=1, **kw).encode(x=alt.value(282 - 8), y=Yl))
    layers.append(alt.Chart(df).mark_text(font=LABEL_FONT, fontSize=35, fontWeight="bold", align="left",
                                          baseline="middle", color="#111111").encode(
        x=alt.value(349 - 8), y=Yl, text="series:N"))
    return alt.layer(*layers)


def hdash(y, x0=91, x1=2398):
    return alt.Chart(ONE).mark_rule(color="black", strokeWidth=13, strokeDash=[16, 24], strokeCap="round").encode(
        x=alt.value(x0 - 8), x2=alt.value(x1 - 8), y=alt.value(y - 8))


def section(txt, cx, cy, fs):
    return alt.Chart(pd.DataFrame({"t": [txt]})).mark_text(
        font=TITLE_FONT, fontWeight="bold", fontSize=fs, color="black", align="center", baseline="middle").encode(
        x=alt.value(cx - 8), y=alt.value(cy - 8), text="t:N")


parts = [
    legend_panel(),
    panel("FMI_pixel", FMI_pixel, 898, 1590, 78, 565),
    panel("FMI_w", FMI_w, 1693, 2386, 78, 565),
    panel("FMI_dct", FMI_dct, 103, 795, 660, 1147),
    panel("Nabf", Nabf, 898, 1590, 660, 1147),
    panel("EN", EN, 1677, 2386, 660, 1147),
    panel("PSNR", PSNR, 80, 796, 1235, 1719),
    panel("MI", MI, 862, 1590, 1235, 1719),
    panel("Qabf", Qabf, 1677, 2386, 1235, 1719),
    panel("SSIM", SSIM, 88, 796, 1886, 2372),
    panel("MS_SSIM", MS_SSIM, 883, 1589, 1886, 2372),
    panel("MSE", MSE, 1693, 2386, 1886, 2372),
    panel("SF", SF, 103, 797, 2542, 3027),
    panel("SD", SD, 876, 1591, 2542, 3027),
    panel("AG", AG, 1669, 2386, 2542, 3027),
    panel("VIF", VIF, 88, 796, 3195, 3680),
    panel("CC", CC, 883, 1590, 3195, 3680),
    panel("SCD", SCD, 1687, 2386, 3195, 3680),
    hdash(1831), hdash(2491), hdash(3150),
    alt.Chart(ONE).mark_rule(color="black", strokeWidth=13, strokeDash=[11, 28], strokeCap="round").encode(
        x=alt.value(821 - 8), y=alt.value(3200 - 8), y2=alt.value(3742 - 8)),
    section("Based on Information Theory", 1250, 1783, 51),
    section("Based on Structural Similarity", 1250, 2450, 53),
    section("Based on Image Features", 1251, 3108, 53),
    section("Based on Human Visual Perception", 424, 3775, 53),
    section("Based on Correlation", 1607, 3774, 53),
]

chart = alt.layer(*parts).resolve_scale(x="independent", y="independent").resolve_axis(
    x="independent", y="independent").properties(width=W, height=H, padding=0, background="white"
).configure_view(stroke="transparent")

chart.save("out.html", embed_options={"renderer": "svg", "actions": False})
